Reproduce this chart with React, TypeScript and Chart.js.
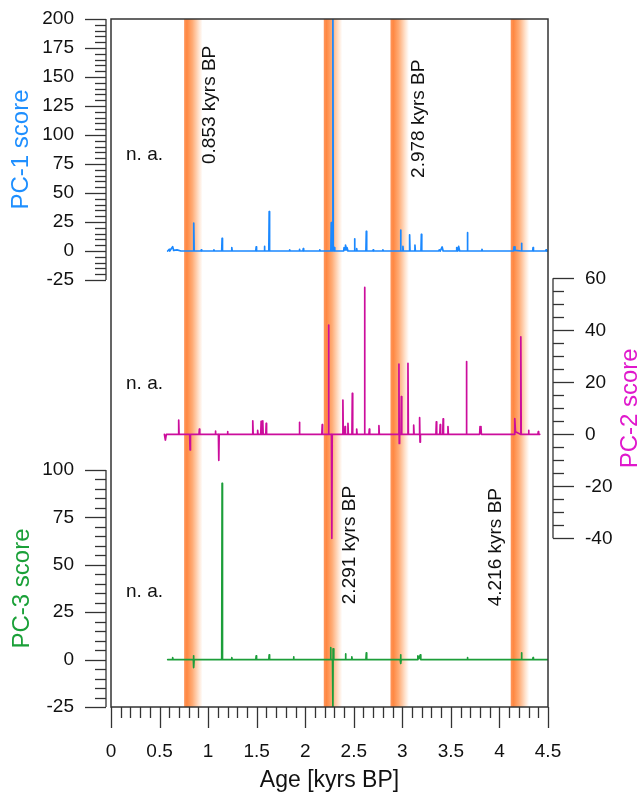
import React, { useEffect, useRef } from "react";
import { Chart, registerables } from "chart.js";

Chart.register(...registerables);

// ---------------- DATA ----------------
const pc1Ages = [
  0.584, 0.6, 0.605, 0.62, 0.635, 0.645, 0.68, 0.72, 0.75, 0.848, 0.852, 0.856, 0.926, 0.93, 0.934, 1.056, 1.06,
  1.064, 1.14, 1.144, 1.148, 1.24, 1.244, 1.248, 1.491, 1.495, 1.499, 1.576, 1.58, 1.584, 1.625, 1.629, 1.633,
  1.836, 1.84, 1.844, 1.936, 1.94, 1.944, 1.976, 1.98, 1.984, 2.146, 2.15, 2.154, 2.264, 2.268, 2.272, 2.281,
  2.285, 2.289, 2.296, 2.3, 2.304, 2.396, 2.4, 2.41, 2.415, 2.425, 2.43, 2.44, 2.504, 2.508, 2.512, 2.526, 2.53,
  2.534, 2.625, 2.629, 2.633, 2.696, 2.7, 2.704, 2.796, 2.8, 2.804, 2.978, 2.982, 2.986, 3.002, 3.006, 3.01,
  3.071, 3.075, 3.079, 3.126, 3.13, 3.134, 3.192, 3.196, 3.2, 3.376, 3.38, 3.39, 3.41, 3.42, 3.556, 3.56, 3.57,
  3.58, 3.59, 3.666, 3.67, 3.674, 3.816, 3.82, 3.824, 4.146, 4.15, 4.16, 4.223, 4.227, 4.231, 4.342, 4.346,
  4.35, 4.476, 4.48, 4.484, 4.5,
];
const pc1Scores = [
  0, 1.5, 0, 2, 3.7, 0.5, 1, 0, 0, 0, 24, 0, 0, 1, 0, 0, 1,
  0, 0, 11, 0, 0, 3, 0, 0, 3.7, 0, 0, 4, 0, 0, 34, 0,
  0, 1, 0, 0, 1.5, 0, 0, 2, 0, 0, 1, 0, 0, 24.4, 0, 0,
  200, 0, 0, 3, 0, 0, 3, 1, 5, 1, 3, 0, 0, 10.6, 0, 0, 2,
  0, 0, 17, 0, 0, 1, 0, 0, 1, 0, 0, 18, 0, 0, 4, 0,
  0, 14, 0, 0, 5, 0, 0, 14.4, 0, 0, 1, 0, 3.5, 0, 0, 3, 0,
  4, 0, 0, 15.8, 0, 0, 1.5, 0, 0, 3.7, 0.5, 0, 6.6, 0, 0, 3,
  0, 0, 1, 0, 0,
];

const pc2Ages = [
  0.55, 0.56, 0.57, 0.693, 0.697, 0.701, 0.81, 0.814, 0.818, 0.906, 0.91, 0.914, 1.071, 1.075, 1.079, 1.106,
  1.11, 1.114, 1.196, 1.2, 1.204, 1.456, 1.46, 1.464, 1.506, 1.51, 1.514, 1.542, 1.546, 1.55, 1.559, 1.563,
  1.567, 1.594, 1.598, 1.602, 1.936, 1.94, 1.944, 2.171, 2.175, 2.179, 2.236, 2.24, 2.244, 2.27, 2.274, 2.278,
  2.384, 2.388, 2.392, 2.406, 2.41, 2.414, 2.436, 2.44, 2.444, 2.481, 2.485, 2.489, 2.526, 2.53, 2.534, 2.607,
  2.611, 2.615, 2.656, 2.66, 2.664, 2.755, 2.759, 2.763, 2.961, 2.965, 2.968, 2.972, 2.986, 2.99, 2.994, 3.054,
  3.058, 3.062, 3.113, 3.117, 3.121, 3.174, 3.178, 3.182, 3.186, 3.346, 3.35, 3.354, 3.386, 3.39, 3.394, 3.416,
  3.42, 3.424, 3.466, 3.47, 3.474, 3.656, 3.66, 3.664, 3.796, 3.8, 3.81, 3.814, 4.154, 4.158, 4.165, 4.216,
  4.22, 4.224, 4.296, 4.3, 4.304, 4.396, 4.4, 4.404, 4.415,
];
const pc2Scores = [
  0, -2.2, 0, 0, 5.5, 0, 0, -6, 0, 0, 2, 0, 0, 1.2, 0, 0,
  -10, 0, 0, 1, 0, 0, 5.2, 0, 0, 1.5, 0, 0, 5, 0, 0, 5.2,
  0, 0, 4.2, 0, 0, 4.6, 0, 0, 3.7, 0, 0, 42, 0, 0, -40, 0,
  0, 13.2, 0, 0, 3, 0, 0, 4.2, 0, 0, 15.8, 0, 0, 2, 0, 0,
  56.5, 0, 0, 2, 0, 0, 3.3, 0, 0, 27, -3.5, 0, 0, 14.5, 0, 0,
  27.3, 0, 0, 3.5, 0, 0, 6.4, -3, 0, 0, 4.8, 0, 0, 3.7, 0, 0,
  5.9, 0, 0, 3, 0, 0, 28, 0, 0, 3, 2.5, 0, 0, 6, 1, 0,
  37.5, 0, 0, 1.5, 0, 0, 1, 0, 0,
];

const pc3Ages = [
  0.584, 0.631, 0.635, 0.639, 0.848, 0.85, 0.852, 0.856, 1.14, 1.144, 1.148, 1.24, 1.244, 1.248, 1.491, 1.495,
  1.499, 1.625, 1.629, 1.633, 1.876, 1.88, 1.884, 2.257, 2.261, 2.265, 2.281, 2.285, 2.287, 2.292, 2.296, 2.411,
  2.415, 2.419, 2.476, 2.48, 2.484, 2.625, 2.629, 2.633, 2.978, 2.982, 2.985, 2.988, 3.156, 3.16, 3.17, 3.185,
  3.19, 3.666, 3.67, 3.674, 4.223, 4.227, 4.231, 4.342, 4.346, 4.35, 4.5,
];
const pc3Scores = [
  0, 0, 1, 0, 0, 2, -4.2, 0, 0, 93, 0, 0, 1, 0, 0, 2,
  0, 0, 2.5, 0, 0, 1.5, 0, 0, 6.3, 0, 0, -25, 5.7, 5, 0, 0,
  3, 0, 0, 1.5, 0, 0, 3.5, 0, 0, 2.5, -2, 0, 0, 2, 0.5, 2.5,
  0, 0, 1, 0, 0, 3.5, 0, 0, 1, 0, 0,
];

const xTickValues = [0, 0.5, 1, 1.5, 2, 2.5, 3, 3.5, 4, 4.5];
const xTickLabels = ["0", "0.5", "1", "1.5", "2", "2.5", "3", "3.5", "4", "4.5"];
const pc1TickValues = [-25, 0, 25, 50, 75, 100, 125, 150, 175, 200];
const pc2TickValues = [-40, -20, 0, 20, 40, 60];
const pc3TickValues = [-25, 0, 25, 50, 75, 100];

const eventAges = [0.853, 2.291, 2.978, 4.216];
const eventLabels = ["0.853 kyrs BP", "2.291 kyrs BP", "2.978 kyrs BP", "4.216 kyrs BP"];

// ---------------- LAYOUT / STYLE ----------------
const W = 643;
const H = 792;
const FONT = "'Liberation Sans', Arial, Helvetica, sans-serif";
const C1 = "#1a88ff";
const C2 = "#cc0d9c";
const C3 = "#1c9e3a";
const T1 = "#1e8fff";
const T2 = "#e018cc";
const T3 = "#1aa038";
const AXIS = "#333333";

const P1 = { fTop: 0, fBot: 0.3794, min: -25, max: 200 };
const P2 = { fTop: 0.3769, fBot: 0.7548, min: -40, max: 60 };
const P3 = { fTop: 0.6555, fBot: 1.0, min: -25, max: 100 };

function fullRange(p: { fTop: number; fBot: number; min: number; max: number }) {
  const span = (p.max - p.min) / (p.fBot - p.fTop);
  const smax = p.max + p.fTop * span;
  return { min: smax - span, max: smax };
}

function toPoints(xs: number[], ys: number[]) {
  return xs.map((x, i) => ({ x, y: ys[i] }));
}

const decorPlugin = {
  id: "decor",
  beforeDatasetsDraw(chart: any) {
    const { ctx, chartArea, scales } = chart;
    const xs = scales.x;
    ctx.save();
    for (const age of eventAges) {
      const x0 = xs.getPixelForValue(age - 0.1);
      const x1 = xs.getPixelForValue(age + 0.09);
      const g = ctx.createLinearGradient(x0, 0, x1, 0);
      g.addColorStop(0, "rgb(255,150,92)");
      g.addColorStop(0.15, "rgb(255,136,66)");
      g.addColorStop(0.45, "rgb(255,172,118)");
      g.addColorStop(0.8, "rgb(255,228,208)");
      g.addColorStop(1, "rgb(255,255,255)");
      ctx.fillStyle = g;
      ctx.fillRect(x0, chartArea.top, x1 - x0, chartArea.bottom - chartArea.top);
    }
    ctx.restore();
  },
  afterDraw(chart: any) {
    const { ctx, chartArea, scales } = chart;
    const xs = scales.x;
    const y1 = scales.y1;
    const y2 = scales.y2;
    const y3 = scales.y3;
    const { left, right, top, bottom } = chartArea;
    ctx.save();
    ctx.strokeStyle = AXIS;
    ctx.lineWidth = 1.5;
    ctx.strokeRect(left, top, right - left, bottom - top);

    ctx.lineWidth = 1.3;
    for (let i = 0; i <= 45; i++) {
      const v = i / 10;
      const px = Math.round(xs.getPixelForValue(v)) + 0.5;
      const major = i % 5 === 0;
      ctx.beginPath();
      ctx.moveTo(px, bottom);
      ctx.lineTo(px, bottom + (major ? 21 : 11));
      ctx.stroke();
    }
    ctx.fillStyle = "#111";
    ctx.font = `19px ${FONT}`;
    ctx.textAlign = "center";
    ctx.textBaseline = "middle";
    xTickValues.forEach((v, i) => {
      ctx.fillText(xTickLabels[i], xs.getPixelForValue(v), bottom + 45);
    });
    ctx.font = `23px ${FONT}`;
    ctx.fillText("Age [kyrs BP]", (left + right) / 2, bottom + 74);

    const leftAxis = (sc: any, p: any, ticks: number[]) => {
      const ax = left - 5;
      ctx.beginPath();
      ctx.moveTo(ax, sc.getPixelForValue(p.max));
      ctx.lineTo(ax, sc.getPixelForValue(p.min));
      ctx.stroke();
      for (let v = p.min; v <= p.max; v += 5) {
        const py = Math.round(sc.getPixelForValue(v)) + 0.5;
        const major = ticks.includes(v);
        ctx.beginPath();
        ctx.moveTo(ax, py);
        ctx.lineTo(ax - (major ? 21 : 11), py);
        ctx.stroke();
      }
      ctx.font = `19px ${FONT}`;
      ctx.textAlign = "right";
      ctx.textBaseline = "middle";
      ctx.fillStyle = "#111";
      ticks.forEach((v) => ctx.fillText(String(v), left - 37, sc.getPixelForValue(v)));
    };
    leftAxis(y1, P1, pc1TickValues);
    leftAxis(y3, P3, pc3TickValues);

    {
      const ax = right + 5;
      ctx.beginPath();
      ctx.moveTo(ax, y2.getPixelForValue(P2.max));
      ctx.lineTo(ax, y2.getPixelForValue(P2.min));
      ctx.stroke();
      for (let v = P2.min; v <= P2.max; v += 5) {
        const py = Math.round(y2.getPixelForValue(v)) + 0.5;
        const major = pc2TickValues.includes(v);
        ctx.beginPath();
        ctx.moveTo(ax, py);
        ctx.lineTo(ax + (major ? 21 : 11), py);
        ctx.stroke();
      }
      ctx.font = `19px ${FONT}`;
      ctx.textAlign = "left";
      ctx.textBaseline = "middle";
      ctx.fillStyle = "#111";
      pc2TickValues.forEach((v) => ctx.fillText(String(v), right + 37, y2.getPixelForValue(v)));
    }

    const rot = (text: string, x: number, y: number, color: string, size: number) => {
      ctx.save();
      ctx.translate(x, y);
      ctx.rotate(-Math.PI / 2);
      ctx.font = `${size}px ${FONT}`;
      ctx.fillStyle = color;
      ctx.textAlign = "center";
      ctx.textBaseline = "middle";
      ctx.fillText(text, 0, 0);
      ctx.restore();
    };
    rot("PC-1 score", 21, (y1.getPixelForValue(P1.max) + y1.getPixelForValue(P1.min)) / 2, T1, 24);
    rot("PC-3 score", 22, (y3.getPixelForValue(P3.max) + y3.getPixelForValue(P3.min)) / 2, T3, 24);
    rot("PC-2 score", 630, (y2.getPixelForValue(P2.max) + y2.getPixelForValue(P2.min)) / 2, T2, 24);

    rot(eventLabels[0], xs.getPixelForValue(1.019), y1.getPixelForValue(126), "#111", 19);
    rot(eventLabels[2], xs.getPixelForValue(3.168), y1.getPixelForValue(114), "#111", 19);
    rot(eventLabels[1], xs.getPixelForValue(2.457), y3.getPixelForValue(60.4), "#111", 19);
    rot(eventLabels[3], xs.getPixelForValue(3.962), y3.getPixelForValue(59.3), "#111", 19);

    ctx.font = `19px ${FONT}`;
    ctx.fillStyle = "#111";
    ctx.textAlign = "left";
    ctx.textBaseline = "middle";
    ctx.fillText("n. a.", xs.getPixelForValue(0.155), y1.getPixelForValue(83));
    ctx.fillText("n. a.", xs.getPixelForValue(0.155), y2.getPixelForValue(19.3));
    ctx.fillText("n. a.", xs.getPixelForValue(0.155), y3.getPixelForValue(36));
    ctx.restore();
  },
};

export default function App() {
  const ref = useRef<HTMLCanvasElement | null>(null);
  useEffect(() => {
    if (!ref.current) return;
    const r1 = fullRange(P1);
    const r2 = fullRange(P2);
    const r3 = fullRange(P3);
    const lineStyle = {
      borderWidth: 1.7,
      pointRadius: 0,
      borderJoinStyle: "round" as const,
      borderCapStyle: "round" as const,
      tension: 0,
    };
    const chart = new Chart(ref.current, {
      type: "line",
      data: {
        datasets: [
          { label: "PC-1", data: toPoints(pc1Ages, pc1Scores), borderColor: C1, xAxisID: "x", yAxisID: "y1", ...lineStyle },
          { label: "PC-2", data: toPoints(pc2Ages, pc2Scores), borderColor: C2, xAxisID: "x", yAxisID: "y2", ...lineStyle },
          { label: "PC-3", data: toPoints(pc3Ages, pc3Scores), borderColor: C3, xAxisID: "x", yAxisID: "y3", ...lineStyle },
        ],
      },
      options: {
        responsive: false,
        animation: false,
        layout: { padding: { left: 111, right: 95, top: 19, bottom: 85 } },
        plugins: { legend: { display: false }, tooltip: { enabled: false } },
        scales: {
          x: { type: "linear", min: 0, max: 4.5, display: false },
          y1: { type: "linear", min: r1.min, max: r1.max, display: false },
          y2: { type: "linear", min: r2.min, max: r2.max, display: false },
          y3: { type: "linear", min: r3.min, max: r3.max, display: false },
        },
      },
      plugins: [decorPlugin],
    });
    return () => chart.destroy();
  }, []);
  return (
    <div style={{ position: "absolute", left: 0, top: 0, width: W, height: H, background: "#fff" }}>
      <canvas ref={ref} width={W} height={H} style={{ width: W, height: H, display: "block" }} />
    </div>
  );
}
